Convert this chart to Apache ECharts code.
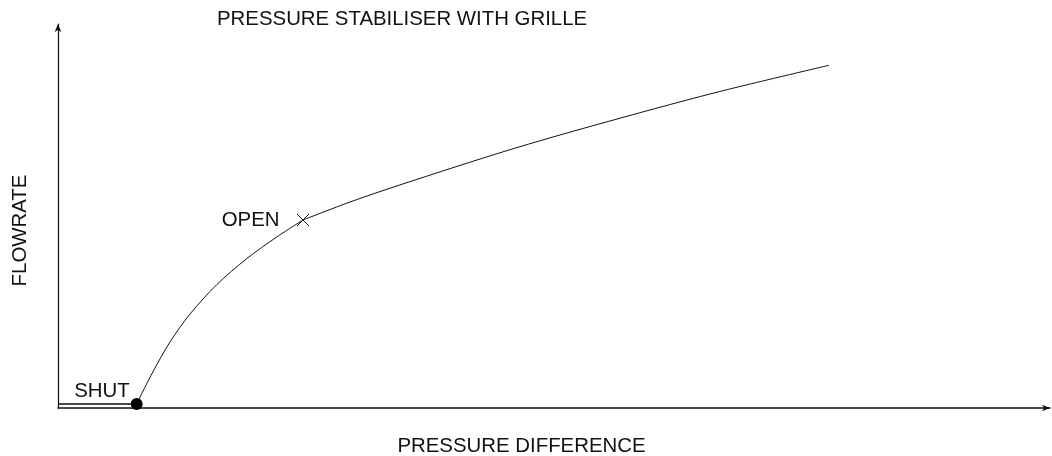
<!DOCTYPE html>
<html>
<head>
<meta charset="utf-8">
<script src="https://cdn.jsdelivr.net/npm/echarts@6/dist/echarts.min.js"></script>
<style>
  html, body { margin: 0; padding: 0; background: #fff; }
  #chart { width: 1052px; height: 456px; }
</style>
</head>
<body>
<div id="chart"></div>
<script>
// pressure difference / flowrate, both in arbitrary 0..100 units
const shutLine = [[0, 1.04], [7.93, 1.04]]
const openingCurve = [
  [7.93, 1.04], [9.45, 8.85], [11.29, 17.19], [13.31, 24.48], [16.00, 32.11],
  [19.02, 38.88], [22.05, 44.53], [24.70, 48.96],
]
const openCurve = [
  [24.70, 48.96], [29.44, 53.65], [34.88, 58.44], [45.36, 67.11],
  [54.03, 73.59], [66.23, 82.11], [77.72, 89.24],
]
const shutPoint = [7.93, 1.04]
const openPoint = [24.70, 48.96]

const INK = '#111'
const FONT = '"Liberation Sans", Arial, sans-serif'
const FS = 20.4

const chart = echarts.init(document.getElementById('chart'))

chart.setOption({
  backgroundColor: '#fff',
  animation: false,
  textStyle: { fontFamily: FONT, color: INK },
  title: {
    text: 'PRESSURE STABILISER WITH GRILLE',
    left: 217,
    top: 9,
    padding: 0,
    textStyle: { fontFamily: FONT, fontSize: FS, fontWeight: 'normal', color: INK },
  },
  // v6 shrinks the grid to fit axis names unless told not to
  grid: { left: 58, right: 2, top: 24, bottom: 48, containLabel: false, outerBoundsMode: 'none' },
  xAxis: {
    type: 'value',
    min: 0,
    max: 100,
    name: 'PRESSURE DIFFERENCE',
    nameLocation: 'middle',
    nameGap: 28,
    nameTextStyle: { fontFamily: FONT, fontSize: FS, color: INK, padding: [0, 65, 0, 0] },
    axisLine: {
      onZero: false,
      symbol: ['none', 'arrow'],
      symbolSize: [5, 8],
      lineStyle: { color: INK, width: 1.5 },
    },
    axisTick: { show: false },
    axisLabel: { show: false },
    splitLine: { show: false },
  },
  yAxis: {
    type: 'value',
    min: 0,
    max: 100,
    name: 'FLOWRATE',
    nameLocation: 'middle',
    nameGap: 28,
    nameTextStyle: { fontFamily: FONT, fontSize: FS, color: INK, padding: [0, 29, 0, 0] },
    axisLine: {
      onZero: false,
      symbol: ['none', 'arrow'],
      symbolSize: [5, 8],
      lineStyle: { color: INK, width: 1.2 },
    },
    axisTick: { show: false },
    axisLabel: { show: false },
    splitLine: { show: false },
  },
  series: [
    {
      name: 'shut',
      type: 'line',
      data: shutLine,
      symbol: 'none',
      lineStyle: { color: INK, width: 1.5 },
    },
    {
      name: 'opening',
      type: 'line',
      data: openingCurve,
      symbol: 'none',
      smooth: 0.3,
      lineStyle: { color: INK, width: 1 },
    },
    {
      name: 'open',
      type: 'line',
      data: openCurve,
      symbol: 'none',
      smooth: 0.3,
      lineStyle: { color: INK, width: 1 },
    },
    {
      name: 'shut point',
      type: 'scatter',
      data: [shutPoint],
      symbol: 'circle',
      symbolSize: 12,
      itemStyle: { color: '#000', opacity: 1 },
      label: {
        show: true,
        formatter: 'SHUT',
        position: 'left',
        distance: 1,
        offset: [0, -13],
        fontFamily: FONT,
        fontSize: FS,
        color: INK,
        opacity: 1,
      },
      z: 5,
    },
    {
      name: 'open point',
      type: 'scatter',
      data: [openPoint],
      symbol: 'path://M0,0L10,10M10,0L0,10',
      symbolSize: 12,
      itemStyle: { color: 'transparent', borderColor: INK, borderWidth: 1, opacity: 1 },
      label: {
        show: true,
        formatter: 'OPEN',
        position: 'left',
        distance: 17,
        offset: [0, 0],
        fontFamily: FONT,
        fontSize: FS,
        color: INK,
        opacity: 1,
      },
      z: 5,
    },
  ],
})
</script>
</body>
</html>
